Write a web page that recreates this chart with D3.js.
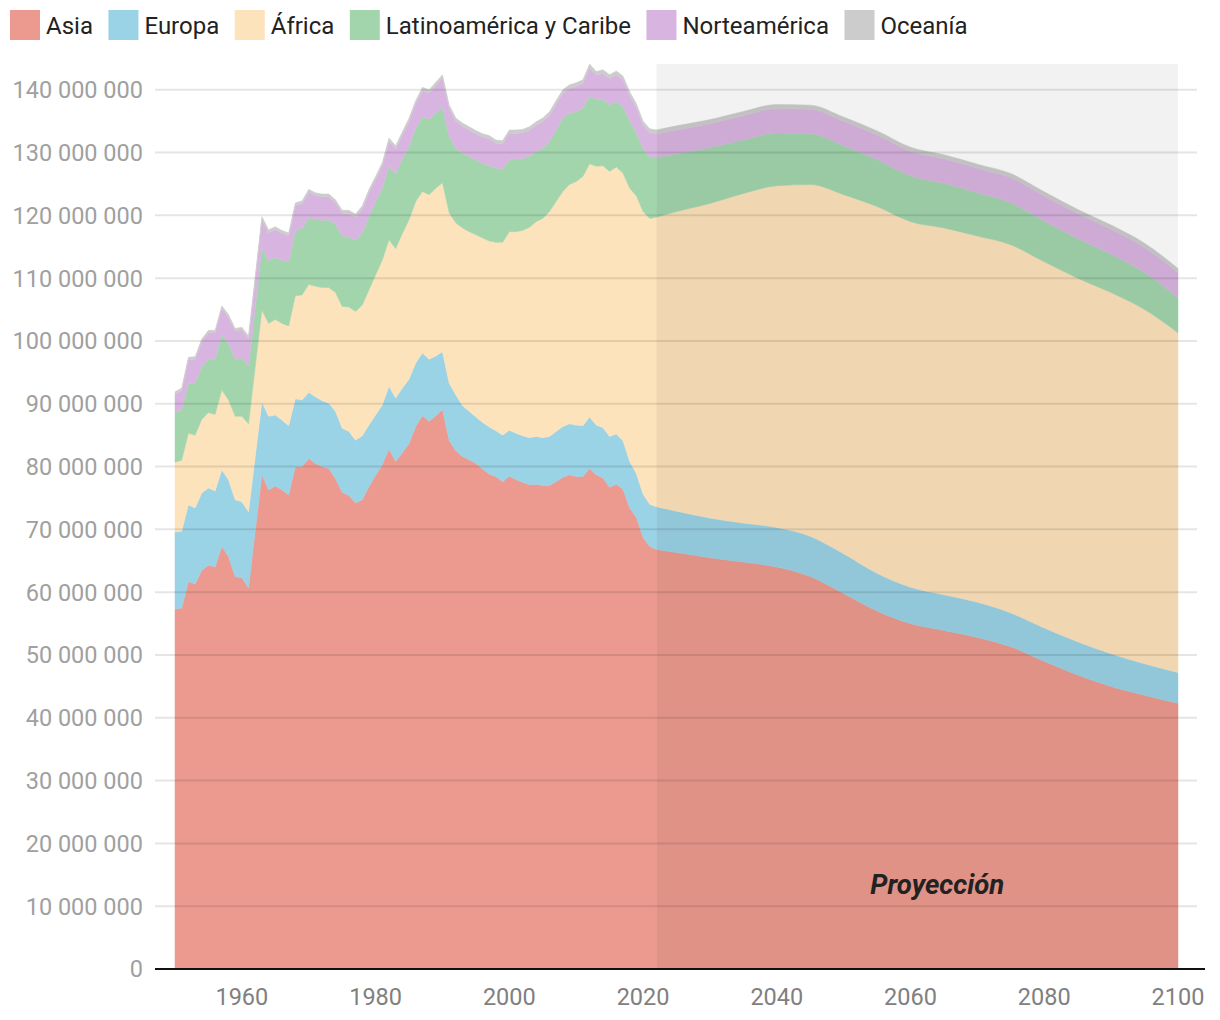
<!DOCTYPE html>
<html><head><meta charset="utf-8">
<script src="https://cdn.jsdelivr.net/npm/d3@7"></script>
<style>body{margin:0;background:#fff;} svg{display:block;font-family:Roboto,"Noto Sans",sans-serif;}</style>
</head><body>
<svg id="chart" width="1220" height="1020"></svg>
<script>
const years = [1950,1951,1952,1953,1954,1955,1956,1957,1958,1959,
1960,1961,1962,1963,1964,1965,1966,1967,1968,1969,
1970,1971,1972,1973,1974,1975,1976,1977,1978,1979,
1980,1981,1982,1983,1984,1985,1986,1987,1988,1989,
1990,1991,1992,1993,1994,1995,1996,1997,1998,1999,
2000,2001,2002,2003,2004,2005,2006,2007,2008,2009,
2010,2011,2012,2013,2014,2015,2016,2017,2018,2019,
2020,2021,2022,
2025,2030,2035,2040,2045,2050,2055,2060,2065,2070,2075,2080,2085,2090,2095,2100];

const seriesNames = ["Asia","Europa","África","Latinoamérica y Caribe","Norteamérica","Oceanía"];

// births per year, millions
const asia = [57.3,57.5,61.7,61.3,63.5,64.3,64.0,67.3,65.7,62.5,
62.3,60.7,69.8,78.7,76.3,76.9,76.3,75.5,80.0,80.0,
81.3,80.5,80.0,79.7,78.1,75.9,75.4,74.2,74.7,76.8,
78.6,80.3,82.8,80.8,82.2,83.7,86.4,88.1,87.2,88.1,
89.1,84.2,82.5,81.6,81.1,80.5,79.6,78.8,78.4,77.6,
78.5,77.9,77.5,77.1,77.2,77.0,77.0,77.6,78.3,78.7,
78.4,78.4,79.7,78.7,78.2,76.7,77.2,76.4,73.4,71.9,
68.7,67.3,66.8,
66.3,65.5,64.8,64.0,62.5,59.8,57.0,55.0,53.9,52.8,51.3,49.0,46.8,45.0,43.6,42.3];

const europa = [12.3,12.2,12.2,12.1,12.3,12.3,12.1,12.2,12.2,12.2,
12.1,12.1,11.8,11.6,11.7,11.3,11.1,11.0,10.8,10.6,
10.5,10.6,10.5,10.4,10.7,10.2,10.2,10.0,10.2,9.8,
9.6,9.5,10.0,10.1,10.3,10.2,10.1,10.0,9.9,9.5,
9.2,9.1,8.9,8.1,7.7,7.4,7.4,7.5,7.3,7.4,
7.3,7.4,7.4,7.5,7.6,7.6,7.8,8.0,8.1,8.1,
8.2,8.1,8.2,7.9,8.0,8.1,8.0,7.7,7.4,7.0,
6.9,6.7,6.8,
6.6,6.3,6.2,6.3,6.4,6.3,6.0,5.8,5.7,5.6,5.4,5.3,5.3,5.2,5.0,4.9];

const africa = [11.1,11.3,11.4,11.6,11.7,12.0,12.2,12.7,12.7,13.3,
13.6,14.0,14.3,14.6,14.8,15.2,15.4,15.9,16.4,16.7,
17.2,17.6,18.0,18.4,18.9,19.4,19.8,20.5,20.8,21.5,
22.3,23.1,23.3,23.8,24.6,25.4,25.7,25.7,26.2,26.7,
26.9,27.1,27.4,28.3,28.6,29.0,29.4,29.6,30.0,30.7,
31.6,32.1,32.7,33.5,34.2,34.9,35.8,36.6,37.4,38.1,
38.8,39.7,40.3,41.2,41.7,42.2,42.5,42.6,43.5,44.2,
45.0,45.5,46.1,
47.7,50.1,52.5,54.4,56.0,57.2,58.4,58.2,58.4,58.3,58.6,58.3,57.9,57.5,56.4,54.1];

const latam = [7.9,8.0,7.9,8.3,8.4,8.5,8.8,8.8,9.0,9.1,
9.3,9.2,9.5,9.9,10.0,9.9,10.0,10.2,10.4,10.6,
10.6,10.7,10.7,10.8,10.9,11.2,11.2,11.3,11.5,11.7,
11.7,11.4,11.7,11.9,11.9,11.6,11.7,11.9,12.0,12.0,
12.0,12.2,11.9,11.9,12.0,11.9,11.9,12.0,11.8,11.7,
11.4,11.6,11.4,11.3,11.2,11.2,11.2,11.4,11.7,11.4,
11.1,10.9,10.8,10.7,10.6,10.6,10.4,10.6,10.8,10.0,
10.0,9.8,9.5,
9.2,8.9,8.5,8.4,8.1,7.8,7.5,7.3,7.1,6.9,6.7,6.5,6.3,6.1,5.9,5.6];

const norteamerica = [2.9,3.1,3.8,3.8,4.0,4.2,4.2,4.2,4.2,4.5,
4.5,4.35,4.35,4.55,4.45,4.45,4.35,4.15,3.95,3.95,
4.1,3.75,3.75,3.65,3.45,3.65,3.75,3.75,3.85,3.85,
3.55,3.6,4.0,4.0,3.8,4.1,3.9,4.2,4.2,4.4,
4.7,4.5,4.3,4.3,4.2,4.2,4.2,4.3,4.0,4.0,
4.3,4.05,4.15,4.15,4.15,4.25,4.15,4.15,3.95,3.95,
4.0,3.9,4.5,3.8,4.1,4.2,4.3,4.3,4.0,4.1,
3.8,3.9,3.8,
3.8,3.8,3.9,3.9,3.9,3.9,3.9,3.9,3.9,3.9,4.0,4.0,4.0,4.0,4.0,4.0];

const oceania = [0.4,0.4,0.4,0.4,0.4,0.4,0.4,0.4,0.4,0.4,
0.4,0.45,0.45,0.45,0.45,0.45,0.45,0.45,0.45,0.45,
0.45,0.45,0.45,0.45,0.45,0.45,0.45,0.45,0.45,0.45,
0.45,0.5,0.5,0.5,0.5,0.5,0.5,0.5,0.5,0.5,
0.5,0.5,0.5,0.5,0.5,0.5,0.5,0.5,0.5,0.5,
0.5,0.55,0.55,0.55,0.55,0.55,0.55,0.55,0.55,0.55,
0.6,0.6,0.6,0.6,0.6,0.6,0.6,0.6,0.6,0.6,
0.6,0.6,0.6,
0.65,0.65,0.65,0.65,0.65,0.65,0.65,0.65,0.65,0.65,0.65,0.65,0.65,0.65,0.65,0.65];

const yTicks = [0,10000000,20000000,30000000,40000000,50000000,60000000,70000000,80000000,90000000,100000000,110000000,120000000,130000000,140000000];
const xTicks = [1960,1980,2000,2020,2040,2060,2080,2100];
const projectionStart = 2022, projectionEnd = 2100;
const projectionLabel = "Proyección";
const colors = ["#ec9a8f","#9ad2e6","#fde3bc","#a3d5ad","#d8b5e0","#cccccc"];

const seriesData = [asia, europa, africa, latam, norteamerica, oceania];
const table = years.map((yr, i) => {
  const o = {year: yr};
  seriesNames.forEach((n, k) => { o[n] = seriesData[k][i] * 1e6; });
  return o;
});
const stacked = d3.stack().keys(seriesNames)(table);

const svg = d3.select("#chart");
const x = d3.scaleLinear().domain([1950, 2100]).range([175, 1178]);
const y = d3.scaleLinear().domain([0, 144100000]).range([969, 64]);

// observed part: straight segments; projection: smooth curve
const areaObs = d3.area().curve(d3.curveLinear)
  .defined(d => d.data.year <= projectionStart)
  .x(d => x(d.data.year)).y0(d => y(d[0])).y1(d => y(d[1]));
const areaProj = d3.area().curve(d3.curveMonotoneX)
  .defined(d => d.data.year >= projectionStart)
  .x(d => x(d.data.year)).y0(d => y(d[0])).y1(d => y(d[1]));
const gAreas = svg.append("g");
gAreas.selectAll("path.obs").data(stacked).join("path").attr("class", "obs")
  .attr("d", areaObs).attr("fill", (d, i) => colors[i])
  .attr("stroke", (d, i) => colors[i]).attr("stroke-width", 0.5);
gAreas.selectAll("path.proj").data(stacked).join("path").attr("class", "proj")
  .attr("d", areaProj).attr("fill", (d, i) => colors[i])
  .attr("stroke", (d, i) => colors[i]).attr("stroke-width", 0.5);

// projection shade
svg.append("rect")
  .attr("x", x(projectionStart)).attr("width", x(projectionEnd) - x(projectionStart))
  .attr("y", y.range()[1]).attr("height", y.range()[0] - y.range()[1])
  .attr("fill", "#000").attr("fill-opacity", 0.05);

// grid
const fmt = v => d3.format(",")(v).replace(/,/g, " ");
svg.append("g").selectAll("line").data(yTicks.filter(v => v > 0)).join("line")
  .attr("x1", 155).attr("x2", 1197)
  .attr("y1", d => y(d)).attr("y2", d => y(d))
  .attr("stroke", "#000").attr("stroke-opacity", 0.1).attr("stroke-width", 2);

// y labels
svg.append("g").selectAll("text").data(yTicks).join("text")
  .attr("x", 143).attr("y", d => y(d)).attr("dy", "0.36em")
  .attr("text-anchor", "end").attr("fill", "#a0a0a0").attr("font-size", 23.5)
  .text(d => fmt(d));

// baseline
svg.append("line").attr("x1", 155).attr("x2", 1205).attr("y1", y(0)).attr("y2", y(0))
  .attr("stroke", "#111").attr("stroke-width", 2);

// x labels
svg.append("g").selectAll("text").data(xTicks).join("text")
  .attr("x", d => x(d)).attr("y", 1005)
  .attr("text-anchor", "middle").attr("fill", "#808080").attr("font-size", 23.5)
  .text(d => d);

// projection label
svg.append("text").attr("x", x(2064)).attr("y", y(12000000))
  .attr("text-anchor", "middle").attr("font-size", 27.5).attr("font-weight", "bold")
  .attr("font-style", "italic").attr("fill", "#222").text(projectionLabel);

// legend
const lg = svg.append("g");
let lx = 10;
seriesNames.forEach((n, i) => {
  lg.append("rect").attr("x", lx).attr("y", 10).attr("width", 30).attr("height", 30).attr("fill", colors[i]);
  const t = lg.append("text").attr("x", lx + 36).attr("y", 34).attr("font-size", 24).attr("fill", "#222").text(n);
  lx += 36 + t.node().getComputedTextLength() + 15.5;
});
</script>
</body></html>
